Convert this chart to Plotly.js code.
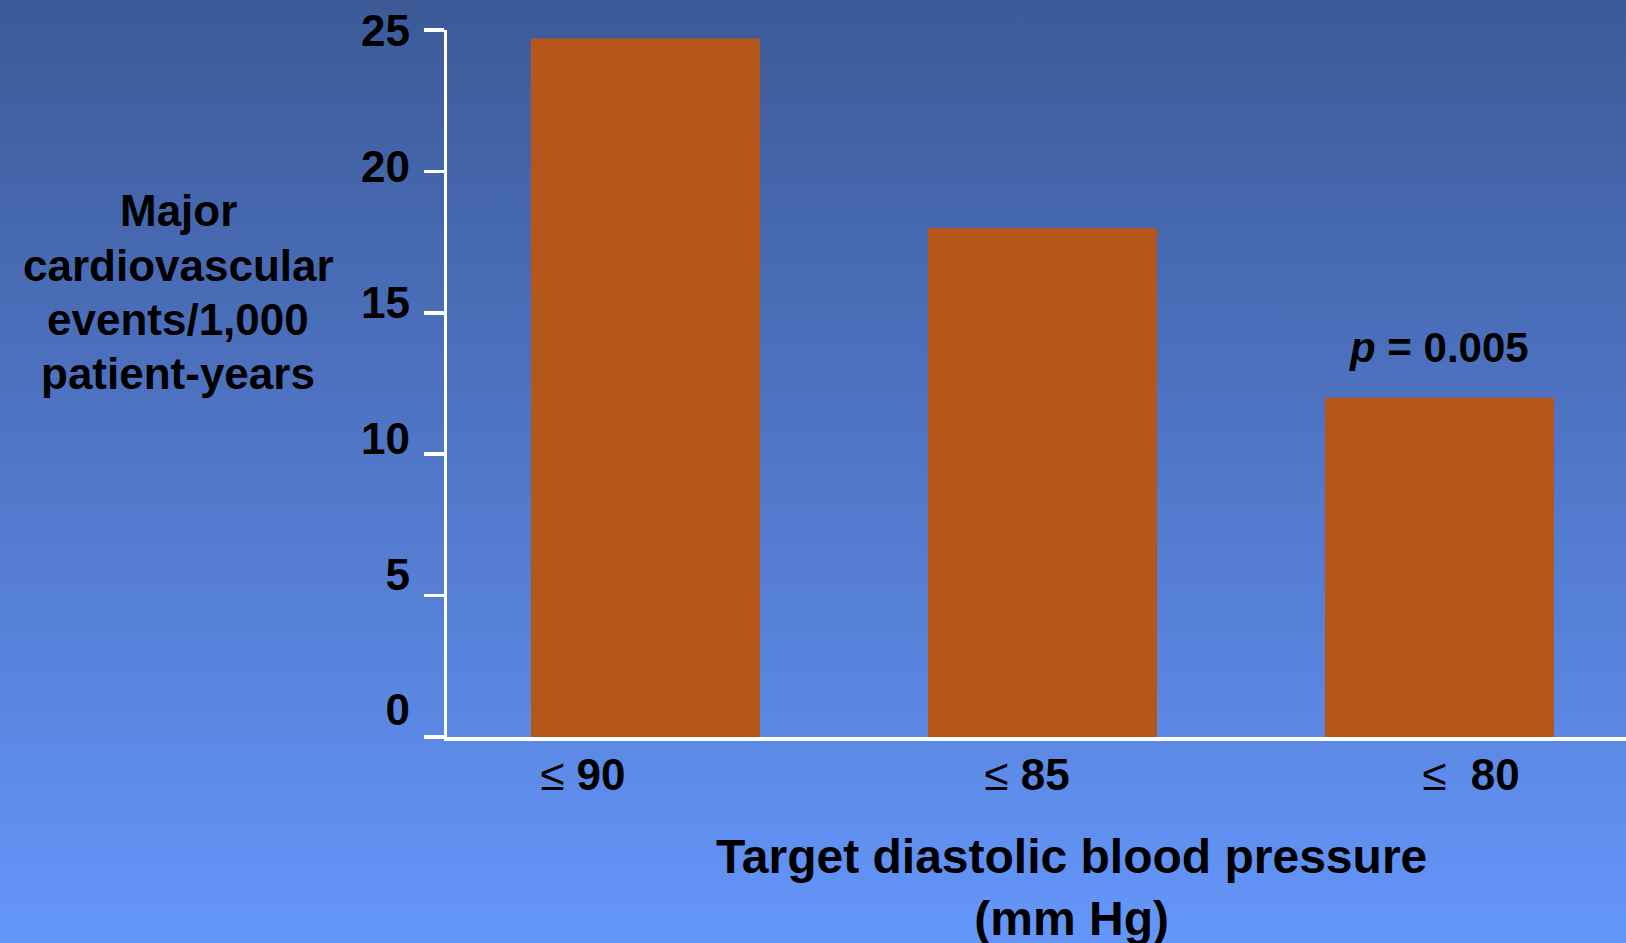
<!DOCTYPE html>
<html>
<head>
<meta charset="utf-8">
<script src="https://cdn.plot.ly/plotly-3.0.1.min.js"></script>
<style>
  html, body { margin: 0; padding: 0; }
  body {
    width: 1626px; height: 943px; overflow: hidden;
    background: linear-gradient(to bottom, #3C5A98 0%, #4F74C4 45%, #6496FA 100%);
  }
  #chart { width: 1626px; height: 943px; }
</style>
</head>
<body>
<div id="chart"></div>
<script>
// Target diastolic pressure groups (mm Hg) and event rates
const thresholds = [90, 85, 80];
const categories = ['≤ 90', '≤ 85', '≤ 80'];
const eventRates = [24.7, 18.0, 12.0];   // events per 1,000 patient-years
const yTicks = [0, 5, 10, 15, 20, 25];
const pValueText = '<i>p</i> = 0.005';
const yTitleLines = ['Major', 'cardiovascular', 'events/1,000', 'patient-years'];
const xTitleText = 'Target diastolic blood pressure<br>(mm Hg)';

const FONT = 'Liberation Sans, Arial, sans-serif';
const NARROW = 'Liberation Sans Narrow, Arial Narrow, Liberation Sans, Arial, sans-serif';

// tick labels: thin "≤" followed by bold number (last one with a wider gap)
const tickText = thresholds.map((n, i) =>
  '≤' + (i === 2 ? '\u00a0\u00a0' : '\u00a0') + '<b>' + n + '</b>');

const bars = {
  type: 'bar',
  x: categories,
  y: eventRates,
  marker: { color: '#B5561A', line: { width: 0 } },
  hoverinfo: 'x+y',
  xaxis: 'x', yaxis: 'y'
};

// invisible companion trace carrying the label axes
const labelTrace = {
  type: 'scatter',
  mode: 'markers',
  x: categories,
  y: eventRates,
  marker: { opacity: 0, size: 1 },
  hoverinfo: 'skip',
  showlegend: false,
  xaxis: 'x2', yaxis: 'y2'
};

const annotations = [
  {
    xref: 'x', yref: 'y', x: categories[2], y: eventRates[2],
    text: pValueText, showarrow: false, yanchor: 'middle', yshift: 50,
    font: { family: FONT, size: 42, color: '#000', weight: 700 }
  },
  {
    xref: 'paper', yref: 'paper', x: 0.530, y: -0.213,
    text: xTitleText, showarrow: false, xanchor: 'center', yanchor: 'middle',
    font: { family: NARROW, size: 48, color: '#000', weight: 700 }
  }
];
yTitleLines.forEach((line, i) => {
  annotations.push({
    xref: 'paper', yref: 'paper', x: -0.228, y: (737 - (211 + 54 * i)) / 707,
    text: line, showarrow: false, xanchor: 'center', yanchor: 'middle',
    font: { family: FONT, size: 44, color: '#000', weight: 700 }
  });
});

const layout = {
  width: 1626, height: 943,
  margin: { l: 447, r: 0, t: 30, b: 206, pad: 0 },
  paper_bgcolor: 'rgba(0,0,0,0)',
  plot_bgcolor: 'rgba(0,0,0,0)',
  showlegend: false,
  bargap: 0.423,
  font: { family: FONT, color: '#000' },
  xaxis: {
    type: 'category', range: [-0.5, 2.47],
    showline: true, linecolor: '#FFFFFF', linewidth: 4,
    showgrid: false, zeroline: false, ticks: '', showticklabels: false,
    fixedrange: true
  },
  yaxis: {
    range: [0, 25], tickvals: yTicks,
    showline: true, linecolor: '#FFFFFF', linewidth: 3.5,
    ticks: 'outside', ticklen: 20, tickwidth: 3.5, tickcolor: '#FFFFFF',
    showgrid: false, zeroline: false, showticklabels: false,
    fixedrange: true
  },
  xaxis2: {
    type: 'category', overlaying: 'x', anchor: 'y', side: 'bottom',
    range: [-0.306, 2.349],
    tickvals: categories, ticktext: tickText,
    showline: false, showgrid: false, zeroline: false, ticks: '',
    ticklabelstandoff: 8,
    tickfont: { family: FONT, size: 44, color: '#000' },
    fixedrange: true
  },
  yaxis2: {
    overlaying: 'y', anchor: 'x', side: 'left',
    range: [-0.99, 25.01], tickvals: yTicks,
    showline: false, showgrid: false, zeroline: false, ticks: '',
    ticklabelstandoff: 36,
    tickfont: { family: FONT, size: 44, color: '#000', weight: 700 },
    fixedrange: true
  },
  annotations: annotations
};

Plotly.newPlot('chart', [bars, labelTrace], layout, { displayModeBar: false, staticPlot: true });
</script>
</body>
</html>
